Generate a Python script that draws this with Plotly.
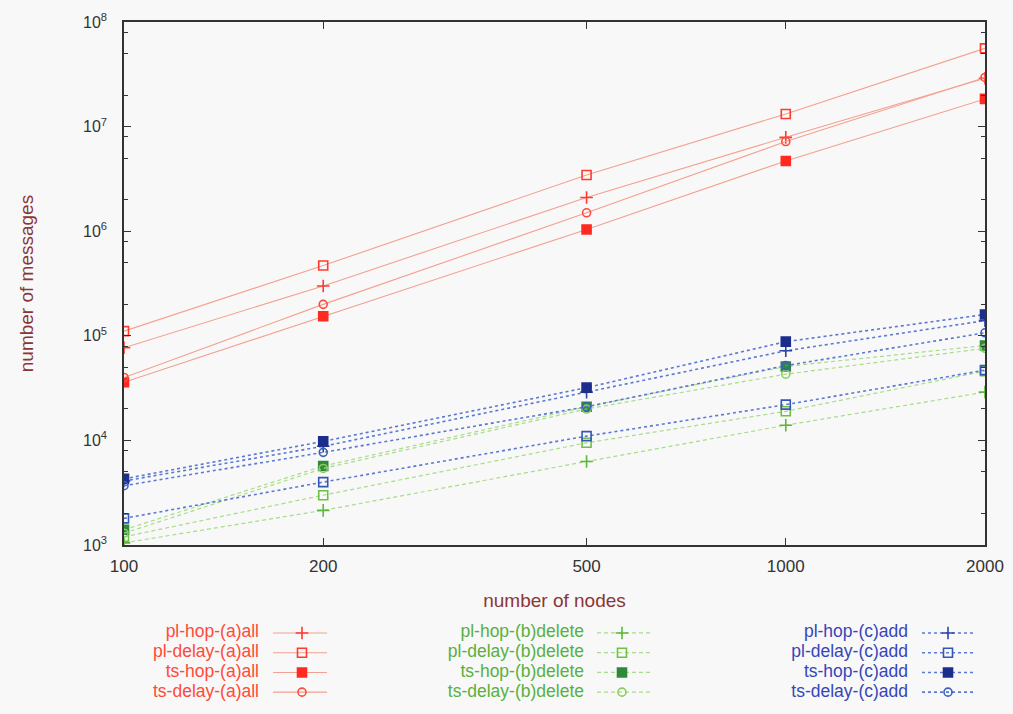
import plotly.graph_objects as go

# ---------------- data ----------------
nodes = [100, 200, 500, 1000, 2000]

pl_hop_a = [7.7e4, 3.0e5, 2.1e6, 7.9e6, 2.9e7]
pl_delay_a = [1.11e5, 4.7e5, 3.45e6, 1.32e7, 5.6e7]
ts_hop_a = [3.6e4, 1.54e5, 1.04e6, 4.7e6, 1.84e7]
ts_delay_a = [4.0e4, 2.0e5, 1.5e6, 7.2e6, 2.95e7]

pl_hop_b = [1.05e3, 2.15e3, 6.3e3, 1.4e4, 2.9e4]
pl_delay_b = [1.2e3, 3.0e3, 9.5e3, 1.9e4, 4.6e4]
ts_hop_b = [1.4e3, 5.7e3, 2.1e4, 5.1e4, 8.1e4]
ts_delay_b = [1.3e3, 5.4e3, 2.0e4, 4.3e4, 7.6e4]

pl_hop_c = [4.1e3, 8.8e3, 2.9e4, 7.2e4, 1.4e5]
pl_delay_c = [1.8e3, 4.0e3, 1.1e4, 2.2e4, 4.7e4]
ts_hop_c = [4.3e3, 9.8e3, 3.2e4, 8.8e4, 1.6e5]
ts_delay_c = [3.7e3, 7.7e3, 2.1e4, 5.2e4, 1.07e5]

x_ticks = [100, 200, 500, 1000, 2000]
y_ticks = [1e3, 1e4, 1e5, 1e6, 1e7, 1e8]
y_ticktext = ["10<sup>3</sup>", "10<sup>4</sup>", "10<sup>5</sup>", "10<sup>6</sup>",
              "10<sup>7</sup>", "10<sup>8</sup>"]

names_a = ["pl-hop-(a)all", "pl-delay-(a)all", "ts-hop-(a)all", "ts-delay-(a)all"]
names_b = ["pl-hop-(b)delete", "pl-delay-(b)delete", "ts-hop-(b)delete", "ts-delay-(b)delete"]
names_c = ["pl-hop-(c)add", "pl-delay-(c)add", "ts-hop-(c)add", "ts-delay-(c)add"]

# ---------------- styles ----------------
FONT = "Liberation Sans, Arial, sans-serif"
BG = "#f8f8f8"
symbols = ["cross-thin-open", "square-open", "square", "circle-open"]
sizes = [9, 9, 9, 8]

groups = [
    dict(series=[pl_hop_a, pl_delay_a, ts_hop_a, ts_delay_a], names=names_a,
         line="#f4a090", dash="solid", lw=1.1,
         mcolors=["#ff3a2e", "#ff3a2e", "#ff2a20", "#ff4a3a"], text="#ff4a3a",
         text_right=259, sample=(273, 327), mk=302),
    dict(series=[pl_hop_b, pl_delay_b, ts_hop_b, ts_delay_b], names=names_b,
         line="#a8dc88", dash="4px,3px", lw=1.2,
         mcolors=["#5cb838", "#70c048", "#2e8a3a", "#88cc60"], text="#58b040",
         text_right=584, sample=(597, 650), mk=622),
    dict(series=[pl_hop_c, pl_delay_c, ts_hop_c, ts_delay_c], names=names_c,
         line="#5a78d4", dash="dot", lw=1.6,
         mcolors=["#2a44a8", "#3456b8", "#1c2e8c", "#3a60b8"], text="#3646b8",
         text_right=908, sample=(922, 975), mk=948),
]
legend_rows = [641, 661, 681, 701]

# ---------------- geometry ----------------
W, H = 1013, 714
L, R, T, B = 124, 28, 22, 0
plot_h = H - T - B
main_bottom_px = 552
y_main_dom = [(H - B - main_bottom_px) / plot_h, 1.0]
leg_top_px = 620
y_leg_dom = [0.0, (H - B - leg_top_px) / plot_h]

fig = go.Figure()

for g in groups:
    for s, nm, sym, sz, mc in zip(g["series"], g["names"], symbols, sizes, g["mcolors"]):
        fig.add_trace(go.Scatter(
            x=nodes, y=s, name=nm, mode="lines+markers",
            line=dict(color=g["line"], width=g["lw"], dash=g["dash"]),
            marker=dict(symbol=sym, size=sz, color=mc, line=dict(color=mc, width=1.6)),
            showlegend=False, xaxis="x", yaxis="y"))

# custom legend (text right-aligned, then sample line + marker)
for g in groups:
    for row_y, nm, sym, sz, mc in zip(legend_rows, g["names"], symbols, sizes, g["mcolors"]):
        fig.add_trace(go.Scatter(
            x=[g["sample"][0], g["mk"], g["sample"][1]], y=[row_y, row_y, row_y],
            mode="lines", line=dict(color=g["line"], width=g["lw"], dash=g["dash"]),
            showlegend=False, hoverinfo="skip", xaxis="x2", yaxis="y2"))
        fig.add_trace(go.Scatter(
            x=[g["mk"]], y=[row_y], mode="markers",
            marker=dict(symbol=sym, size=sz, color=mc, line=dict(color=mc, width=1.6)),
            showlegend=False, hoverinfo="skip", xaxis="x2", yaxis="y2"))
        fig.add_trace(go.Scatter(
            x=[g["text_right"]], y=[row_y], mode="text", text=[nm],
            textposition="middle left",
            textfont=dict(family=FONT, size=17.5, color=g["text"]),
            showlegend=False, hoverinfo="skip", xaxis="x2", yaxis="y2"))

minor_y = [m * 10 ** e for e in range(3, 8) for m in (2, 5, 8)]

fig.update_layout(
    width=W, height=H,
    margin=dict(l=L, r=R, t=T, b=B),
    paper_bgcolor=BG, plot_bgcolor=BG,
    font=dict(family=FONT, size=15, color="#333333"),
    showlegend=False,
    xaxis=dict(
        type="log", range=[2, 3.30103], domain=[0, 1],
        tickvals=x_ticks, ticktext=[str(v) for v in x_ticks],
        ticks="inside", ticklen=7, tickcolor="#333333",
        showline=True, linecolor="#333333", linewidth=1.5, mirror="allticks",
        showgrid=False, zeroline=False, ticklabelstandoff=5,
        tickfont=dict(family=FONT, size=17, color="#333333"),
        title=dict(text="number of nodes", standoff=18,
                   font=dict(family=FONT, size=19, color="#8a3636")),
        anchor="y",
    ),
    yaxis=dict(
        type="log", range=[3, 8], domain=y_main_dom,
        tickvals=y_ticks, ticktext=y_ticktext,
        ticks="inside", ticklen=7, tickcolor="#333333",
        minor=dict(tickvals=minor_y, ticks="inside", ticklen=4, tickcolor="#333333"),
        showline=True, linecolor="#333333", linewidth=1.5, mirror="allticks",
        showgrid=False, zeroline=False, ticklabelstandoff=12,
        tickfont=dict(family=FONT, size=16, color="#333333"),
        title=dict(text="number of messages", standoff=44,
                   font=dict(family=FONT, size=19, color="#8a3636")),
        anchor="x",
    ),
    xaxis2=dict(range=[L, W - R], domain=[0, 1], visible=False, anchor="y2",
                fixedrange=True),
    yaxis2=dict(range=[H - B, leg_top_px], domain=y_leg_dom, visible=False,
                anchor="x2", fixedrange=True),
)

fig.write_html("out.html")
